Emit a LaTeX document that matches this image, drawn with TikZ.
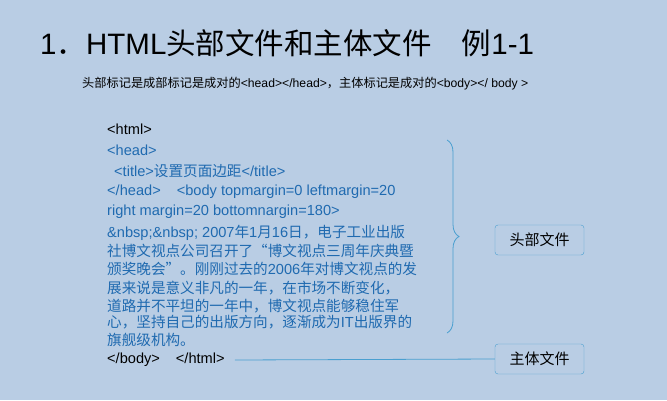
\documentclass[tikz,border=0pt]{standalone}
\usepackage{fontspec}
\setmainfont{Liberation Sans}
\newfontfamily\cjk{Noto Sans CJK SC}
\usetikzlibrary{positioning, decorations.pathreplacing}
\definecolor{bgblue}{HTML}{B9CDE4}
\definecolor{codeblue}{HTML}{1F6AB0}
\definecolor{linkblue}{HTML}{4A9FD0}

\begin{document}
\begin{tikzpicture}[x=1pt, y=-1pt,
    every node/.style={inner sep=0pt},
    codeline/.style={anchor=west, font=\fontsize{14.6}{16}\selectfont, text=codeblue},
    tagbox/.style={draw=linkblue, rounded corners=3pt, fill=bgblue, minimum width=89pt, minimum height=30pt, font=\cjk\fontsize{15}{16}\selectfont}
  ]
  \fill[bgblue] (0,0) rectangle (667,400);
  \useasboundingbox (0,0) rectangle (667,400);
  % title and remark
  \node[anchor=west, font=\fontsize{29.5}{32}\selectfont] (title) at (40,43) {1{\cjk ．}HTML{\cjk 头部文件和主体文件}\hspace{30pt}{\cjk 例}1-1};
  \node[anchor=west, font=\fontsize{12.2}{14}\selectfont] (remark) at (82,84) {{\cjk 头部标记是成部标记是成对的}<head></head>{\cjk ，主体标记是成对的}<body></ body >};
  % code lines
  \node[codeline, text=black] (html) at (107,129) {<html>};
  \node[codeline] (head) at (107,150) {<head>};
  \node[codeline] (ttl) at (114,171) {<title>{\cjk 设置页面边距}</title>};
  \node[codeline] (endhead) at (107,192) {</head>\hspace{16pt}<body topmargin=0 leftmargin=20};
  \node[codeline] (rm) at (107,212) {right margin=20 bottomnargin=180>};
  \node[codeline] (p1) at (107,233) {\&nbsp;\&nbsp; 2007{\cjk 年}1{\cjk 月}16{\cjk 日，电子工业出版}};
  \node[codeline] (p2) at (107,251) {\cjk 社博文视点公司召开了“博文视点三周年庆典暨};
  \node[codeline] (p3) at (107,269) {{\cjk 颁奖晚会”。刚刚过去的}2006{\cjk 年对博文视点的发}};
  \node[codeline] (p4) at (107,288) {\cjk 展来说是意义非凡的一年，在市场不断变化，};
  \node[codeline] (p5) at (107,306) {\cjk 道路并不平坦的一年中，博文视点能够稳住军};
  \node[codeline] (p6) at (107,322) {{\cjk 心，坚持自己的出版方向，逐渐成为}IT{\cjk 出版界的}};
  \node[codeline] (p7) at (107,340) {\cjk 旗舰级机构。};
  \node[codeline, text=black] (endbody) at (107,360) {</body>\hspace{16pt}</html>};
  % labels on the right
  \node[tagbox] (headbox) at (539.5,240) {头部文件};
  \node[tagbox] (bodybox) at (539.5,359) {主体文件};
  \coordinate (bracetop) at (447,140);
  \coordinate (bracebot) at (447,333);
  \draw[linkblue, thick, decorate, decoration={brace, amplitude=12pt}] (bracetop) -- (bracebot);
  \draw[linkblue, thick] (endbody.east) ++(10,0) coordinate (linestart) -- (bodybox.west);
\end{tikzpicture}
\end{document}
